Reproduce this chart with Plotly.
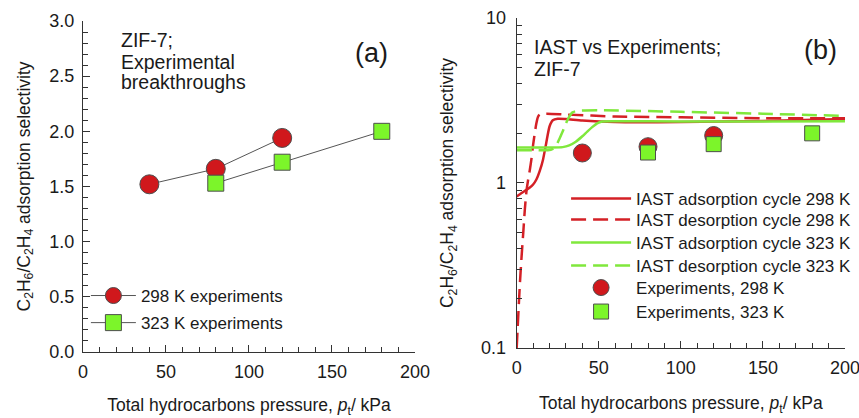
import plotly.graph_objects as go

# Experimental breakthrough selectivities (C2H6/C2H4), ZIF-7
p_298 = [40, 80, 120]
s_298 = [1.52, 1.66, 1.94]
p_323 = [80, 120, 180]
s_323 = [1.53, 1.72, 2.00]

# IAST predictions
ads298_p = [0, 3, 6, 8, 10, 12, 14, 16, 18, 20, 22, 25, 30, 40, 60, 100, 150, 200]
ads298_s = [0.83, 0.87, 0.91, 0.94, 0.98, 1.05, 1.18, 1.38, 1.75, 2.2, 2.4, 2.45, 2.44, 2.39, 2.34, 2.34, 2.38, 2.44]
des298_p = [0, 1, 2, 3, 4, 5, 6, 7, 8, 9, 10, 11, 12, 13, 14, 18, 30, 60, 100, 150, 200]
des298_s = [0.1, 0.16, 0.25, 0.36, 0.5, 0.7, 0.9, 1.05, 1.2, 1.4, 1.7, 2.0, 2.3, 2.52, 2.6, 2.63, 2.6, 2.53, 2.5, 2.47, 2.47]
ads323_p = [0, 10, 20, 28, 32, 36, 40, 43, 46, 49, 52, 60, 100, 150, 200]
ads323_s = [1.64, 1.64, 1.64, 1.65, 1.69, 1.78, 1.92, 2.05, 2.18, 2.3, 2.36, 2.37, 2.36, 2.36, 2.37]
des323_p = [0, 10, 19, 22, 24, 26, 28, 30, 32, 34, 37, 50, 100, 150, 200]
des323_s = [1.58, 1.58, 1.58, 1.61, 1.68, 1.85, 2.05, 2.3, 2.52, 2.68, 2.74, 2.76, 2.7, 2.63, 2.55]

RED = "#d0181c"
GREEN = "#7cf52a"
EDGE = "#4d4d4d"
RED_LINE = "#d42026"
GREEN_LINE = "#80e83c"
FONT = "Arial, Liberation Sans, sans-serif"
INK = "#1a1a1a"
AXC = "#333333"

fig = go.Figure()

# Panel (a)
fig.add_trace(go.Scatter(
    x=p_298, y=s_298, mode="lines+markers", name="298 K experiments",
    line=dict(color="#555555", width=1),
    marker=dict(symbol="circle", size=19, color=RED, line=dict(color=EDGE, width=1)),
    xaxis="x", yaxis="y", legend="legend", legendgroup="a1"))
fig.add_trace(go.Scatter(
    x=p_323, y=s_323, mode="lines+markers", name="323 K experiments",
    line=dict(color="#555555", width=1),
    marker=dict(symbol="square", size=16, color=GREEN, line=dict(color=EDGE, width=1)),
    xaxis="x", yaxis="y", legend="legend", legendgroup="a2"))

# Panel (b): each entry gets its own legend box so the rows sit close together
fig.add_trace(go.Scatter(
    x=ads298_p, y=ads298_s, mode="lines", name="IAST adsorption cycle 298 K",
    line=dict(color=RED_LINE, width=2.5, shape="spline", smoothing=0.6),
    xaxis="x2", yaxis="y2", legend="legend2"))
fig.add_trace(go.Scatter(
    x=des298_p, y=des298_s, mode="lines", name="IAST desorption cycle 298 K",
    line=dict(color=RED_LINE, width=2.5, dash="15px,7px", shape="spline", smoothing=0.6),
    xaxis="x2", yaxis="y2", legend="legend3"))
fig.add_trace(go.Scatter(
    x=ads323_p, y=ads323_s, mode="lines", name="IAST adsorption cycle 323 K",
    line=dict(color=GREEN_LINE, width=2.5, shape="spline", smoothing=0.6),
    xaxis="x2", yaxis="y2", legend="legend4"))
fig.add_trace(go.Scatter(
    x=des323_p, y=des323_s, mode="lines", name="IAST desorption cycle 323 K",
    line=dict(color=GREEN_LINE, width=2.5, dash="15px,7px", shape="spline", smoothing=0.6),
    xaxis="x2", yaxis="y2", legend="legend5"))
fig.add_trace(go.Scatter(
    x=p_298, y=s_298, mode="markers", name="Experiments, 298 K",
    marker=dict(symbol="circle", size=18, color=RED, line=dict(color=EDGE, width=1)),
    xaxis="x2", yaxis="y2", legend="legend6"))
fig.add_trace(go.Scatter(
    x=p_323, y=s_323, mode="markers", name="Experiments, 323 K",
    marker=dict(symbol="square", size=15, color=GREEN, line=dict(color=EDGE, width=1)),
    xaxis="x2", yaxis="y2", legend="legend7"))

ytitle = "C<sub>2</sub>H<sub>6</sub>/C<sub>2</sub>H<sub>4</sub> adsorption selectivity"
xtitle = "Total hydrocarbons pressure, <i>p</i><sub>t</sub>/ kPa"

common_axis = dict(
    showgrid=False, zeroline=False, showline=True, linecolor=AXC, linewidth=1,
    ticks="inside", ticklen=7, tickcolor=AXC, automargin=False,
    ticklabeloverflow="allow",
    tickfont=dict(family=FONT, size=18, color=INK),
)
minor_x = dict(dtick=10, ticks="inside", ticklen=5, tickcolor=AXC)

fig.update_layout(
    width=859, height=418,
    margin=dict(l=0, r=0, t=0, b=0, autoexpand=False),
    paper_bgcolor="white", plot_bgcolor="white",
    font=dict(family=FONT, color=INK),
    xaxis=dict(**common_axis, domain=[0.0966, 0.4831], range=[0, 200],
               dtick=50, minor=minor_x, anchor="y", ticklabelstandoff=3,
               title=dict(text=xtitle, font=dict(family=FONT, size=17.5, color=INK), standoff=31)),
    yaxis=dict(**common_axis, domain=[0.1579, 0.9498], range=[0, 3.0],
               dtick=0.5, tickformat=".1f", ticklabelstandoff=4,
               minor=dict(dtick=0.1, ticks="inside", ticklen=5, tickcolor=AXC),
               anchor="x",
               title=dict(text=ytitle, font=dict(family=FONT, size=17.5, color=INK), standoff=14)),
    xaxis2=dict(**common_axis, domain=[0.6015, 0.9837], range=[0, 200],
                dtick=50, minor=minor_x, anchor="y2", ticklabelstandoff=3,
                title=dict(text=xtitle, font=dict(family=FONT, size=17.5, color=INK), standoff=20)),
    yaxis2=dict(**common_axis, domain=[0.1675, 0.9569], type="log", range=[-1, 1],
                tickvals=[0.1, 1, 10], ticktext=["0.1", "1", "10"], ticklabelstandoff=6,
                minor=dict(tickvals=[0.2, 0.3, 0.4, 0.5, 0.6, 0.7, 0.8, 0.9,
                                     2, 3, 4, 5, 6, 7, 8, 9],
                           ticks="inside", ticklen=5, tickcolor=AXC),
                anchor="x2",
                title=dict(text=ytitle, font=dict(family=FONT, size=17.5, color=INK), standoff=22)),
    legend=dict(x=0.1, y=0.335, xanchor="left", yanchor="top",
                bgcolor="rgba(0,0,0,0)", font=dict(family=FONT, size=17, color=INK),
                tracegroupgap=2, itemwidth=45),
    showlegend=True,
)

# Panel (b) legend rows, centred at these pixel heights
legend_rows_b = [199, 220, 243, 266, 288, 312]
for i, row in enumerate(legend_rows_b):
    key = "legend" + str(i + 2)
    fig.update_layout({key: dict(
        x=0.659, y=1 - row / 418, xanchor="left", yanchor="middle",
        bgcolor="rgba(0,0,0,0)", font=dict(family=FONT, size=17, color=INK),
        itemwidth=60)})


def note(text, x, y, size=19.5, xanchor="left"):
    fig.add_annotation(text=text, xref="paper", yref="paper", x=x / 859, y=1 - y / 418,
                       xanchor=xanchor, yanchor="middle", showarrow=False,
                       font=dict(family=FONT, size=size, color=INK))


note("ZIF-7;", 119, 40)
note("Experimental", 119, 62)
note("breakthroughs", 119, 82)
note("(a)", 371, 53, size=27, xanchor="center")
note("IAST vs Experiments;", 532, 47)
note("ZIF-7", 532, 69)
note("(b)", 820, 50, size=27, xanchor="center")

fig.write_html("out.html")
